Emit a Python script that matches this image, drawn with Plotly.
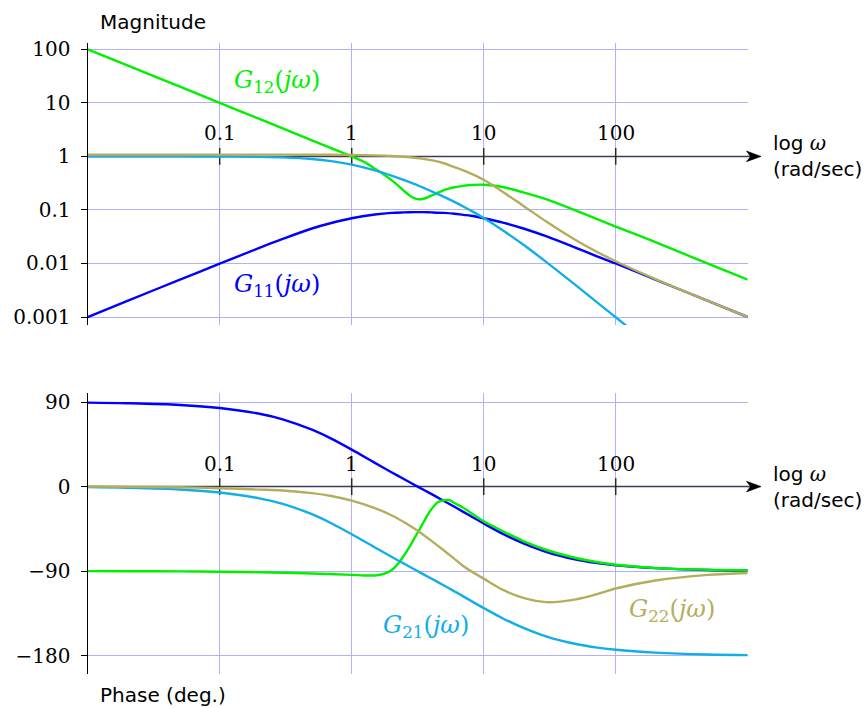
import math
import plotly.graph_objects as go

# ---------------------------------------------------------------------------
# Frequency samples (rad/sec) and read-off responses of the 2x2 plant G(s)
# ---------------------------------------------------------------------------
w = [0.01, 0.02, 0.05, 0.1, 0.2, 0.3, 0.5, 0.7, 1, 1.5, 2, 2.5, 3, 3.5, 4, 5,
     6, 7, 8, 10, 14, 20, 30, 50, 70, 100, 200, 500, 1000]

g11_mag = [0.001, 0.002, 0.005, 0.0099, 0.0196, 0.0287, 0.045, 0.057, 0.070,
           0.082, 0.088, 0.090, 0.091, 0.091, 0.090, 0.088, 0.085, 0.081,
           0.078, 0.070, 0.058, 0.045, 0.032, 0.0196, 0.014, 0.0100, 0.0050,
           0.0020, 0.0010]
g11_phase = [89.4, 88.7, 86.9, 83.7, 77.5, 71.6, 60.5, 51.0, 39.3, 25.2, 15.3,
             7.8, 1.7, -3.4, -7.8, -15.3, -21.5, -26.9, -31.6, -39.3, -50.4,
             -60.5, -69.7, -77.6, -81.1, -83.7, -86.8, -88.8, -89.4]

g21_mag = [1.0, 1.0, 0.999, 0.995, 0.98, 0.957, 0.893, 0.817, 0.704, 0.549,
           0.439, 0.360, 0.303, 0.259, 0.225, 0.175, 0.141, 0.116, 0.097,
           0.0704, 0.0414, 0.0223, 0.0105, 0.0039, 0.0020, 0.00099, 0.00025,
           0.00004, 0.00001]
g21_phase = [-0.6, -1.3, -3.1, -6.3, -12.5, -18.4, -29.4, -39.0, -50.7, -64.8,
             -74.7, -82.2, -88.3, -93.4, -97.8, -105.3, -111.5, -116.9, -121.6,
             -129.3, -140.4, -150.5, -159.7, -167.6, -171.1, -173.7, -176.8,
             -178.8, -179.4]

g22_mag = [1.078, 1.078, 1.078, 1.078, 1.077, 1.077, 1.074, 1.070, 1.062,
           1.043, 1.016, 0.983, 0.943, 0.899, 0.852, 0.745, 0.630, 0.550,
           0.478, 0.365, 0.216, 0.119, 0.060, 0.0271, 0.0171, 0.0110, 0.0051,
           0.0020, 0.0010]
g22_phase = [0.0, -0.3, -0.8, -1.8, -3.2, -4.2, -7.0, -10.0, -15.0, -23.0,
             -30.5, -38.0, -45.0, -51.5, -57.5, -68.0, -77.0, -84.5, -90.0,
             -98.0, -110.0, -118.5, -123.0, -120.0, -115.0, -108.5, -100.0,
             -94.0, -92.0]

w12 = [0.01, 0.02, 0.05, 0.1, 0.2, 0.5, 1, 1.25, 1.5, 1.75, 2, 2.25, 2.5, 2.75,
       3, 3.25, 3.5, 3.75, 4, 4.5, 5, 5.5, 6, 7, 8, 10, 14, 20, 30, 50, 70,
       100, 200, 500, 1000]
g12_mag = [100, 50, 20, 10, 5, 2.0, 1.0, 0.78, 0.59, 0.46, 0.36, 0.285, 0.225,
           0.185, 0.165, 0.158, 0.162, 0.172, 0.185, 0.21, 0.235, 0.252, 0.265,
           0.282, 0.292, 0.296, 0.268, 0.212, 0.157, 0.097, 0.0695, 0.049,
           0.025, 0.0099, 0.005]
g12_phase = [-90.0, -90.1, -90.3, -90.6, -91.2, -92.5, -94.0, -94.6, -94.6,
             -93.0, -89.0, -82.0, -73.0, -64.0, -54.5, -46.0, -38.0, -30.5,
             -24.5, -16.5, -14.5, -14.3, -17.5, -22.5, -28.0, -37.0, -47.5,
             -58.0, -67.5, -76.0, -80.0, -83.2, -86.6, -88.6, -89.4]

# Axis ticks
decades = [0.1, 1, 10, 100]
decade_labels = ["0.1", "1", "10", "100"]
mag_ticks = [100, 10, 1, 0.1, 0.01, 0.001]
mag_tick_labels = ["100", "10", "1", "0.1", "0.01", "0.001"]
phase_ticks = [90, 0, -90, -180]
phase_tick_labels = ["90", "0", "\u221290", "\u2212180"]

# ---------------------------------------------------------------------------
# Geometry
# ---------------------------------------------------------------------------
W, H = 867, 708
X_DOM = [87.7 / W, 747.7 / W]
MAG_DOM = [1 - 325.0 / H, 1 - 43.3 / H]
PH_DOM = [1 - 674.0 / H, 1 - 393.0 / H]
X_RANGE = [-2, 3]
MAG_RANGE = [-3.149, 2.112]
PH_RANGE = [-199.5, 99.6]

C_G11 = "#0000ff"
C_G12 = "#00f000"
C_G21 = "#12aee8"
C_G22 = "#b4ae5c"
GRID = "#b0b0ff"
AXIS = "#3e3e5c"

SERIF = "DejaVu Serif"
SANS = "DejaVu Sans"
LW = 2.4


def paper_y(value, dom, rng):
    return dom[0] + (value - rng[0]) / (rng[1] - rng[0]) * (dom[1] - dom[0])


fig = go.Figure()

# Horizontal frequency axes (drawn first so the curves sit on top)
fig.add_trace(go.Scatter(x=[0.01, 1000], y=[1, 1], mode="lines",
                         line=dict(color=AXIS, width=1.5), hoverinfo="skip",
                         xaxis="x", yaxis="y"))
fig.add_trace(go.Scatter(x=[0.01, 1000], y=[0, 0], mode="lines",
                         line=dict(color=AXIS, width=1.5), hoverinfo="skip",
                         xaxis="x2", yaxis="y2"))
fig.add_trace(go.Scatter(x=decades, y=[1] * len(decades), mode="markers",
                         marker=dict(symbol="line-ns", size=12,
                                     line=dict(color="#2a2a2a", width=1.5)),
                         cliponaxis=False, hoverinfo="skip",
                         xaxis="x", yaxis="y"))
fig.add_trace(go.Scatter(x=decades, y=[0] * len(decades), mode="markers",
                         marker=dict(symbol="line-ns", size=12,
                                     line=dict(color="#2a2a2a", width=1.5)),
                         cliponaxis=False, hoverinfo="skip",
                         xaxis="x2", yaxis="y2"))

curves = [
    (w, g11_mag, g11_phase, C_G11),
    (w12, g12_mag, g12_phase, C_G12),
    (w, g21_mag, g21_phase, C_G21),
    (w, g22_mag, g22_phase, C_G22),
]
for freq, mag, ph, col in curves:
    fig.add_trace(go.Scatter(x=freq, y=mag, mode="lines",
                             line=dict(color=col, width=LW, shape="spline",
                                       smoothing=0.9),
                             xaxis="x", yaxis="y"))
    fig.add_trace(go.Scatter(x=freq, y=ph, mode="lines",
                             line=dict(color=col, width=LW, shape="spline",
                                       smoothing=0.9),
                             xaxis="x2", yaxis="y2"))

xaxis_common = dict(type="log", range=X_RANGE, domain=X_DOM,
                    tickvals=decades, showticklabels=False, ticks="",
                    showgrid=True, gridcolor=GRID, gridwidth=1,
                    showline=False, zeroline=False, automargin=False)
yaxis_common = dict(ticks="outside", ticklen=6, tickwidth=1.2,
                    tickcolor="black", showline=True, linecolor="black",
                    linewidth=1.4, showgrid=True, gridcolor=GRID, gridwidth=1,
                    zeroline=False, ticklabelstandoff=6, automargin=False,
                    tickfont=dict(family=SERIF, size=20, color="black"))

fig.update_layout(
    width=W, height=H, margin=dict(l=0, r=0, t=0, b=0, pad=0),
    paper_bgcolor="white", plot_bgcolor="white", showlegend=False,
    xaxis=dict(anchor="y", **xaxis_common),
    xaxis2=dict(anchor="y2", **xaxis_common),
    yaxis=dict(anchor="x", type="log", domain=MAG_DOM, range=MAG_RANGE,
               tickvals=mag_ticks, ticktext=mag_tick_labels, **yaxis_common),
    yaxis2=dict(anchor="x2", domain=PH_DOM, range=PH_RANGE,
                tickvals=phase_ticks, ticktext=phase_tick_labels,
                **yaxis_common),
)

# Arrow extensions of the frequency axes
shapes = []
for y_axis in (paper_y(0.0, MAG_DOM, MAG_RANGE), paper_y(0.0, PH_DOM, PH_RANGE)):
    y_px = (1 - y_axis) * H
    shapes.append(dict(type="line", xref="paper", yref="paper",
                       x0=747.0 / W, x1=755.0 / W, y0=y_axis, y1=y_axis,
                       line=dict(color=AXIS, width=1.5)))
    pts = [(761.0, y_px), (746.5, y_px - 5.3), (750.5, y_px),
           (746.5, y_px + 5.3)]
    path = "M " + " L ".join(f"{px / W:.5f},{1 - py / H:.5f}" for px, py in pts) + " Z"
    shapes.append(dict(type="path", xref="paper", yref="paper", path=path,
                       fillcolor="black", line=dict(color="black", width=0.6)))
fig.update_layout(shapes=shapes)

ann = []
# Decade labels above each frequency axis
for xr, yr in (("x", "y"), ("x2", "y2")):
    for v, t in zip(decades, decade_labels):
        ann.append(dict(x=math.log10(v), y=0, xref=xr, yref=yr, text=t,
                        showarrow=False, yanchor="bottom", xanchor="center",
                        yshift=9, font=dict(family=SERIF, size=20,
                                            color="black")))

omega_lbl = ("log <span style='font-family:DejaVu Serif'><i>\u03c9</i></span>"
             "<br>(rad/sec)")
for y_axis in (paper_y(0.0, MAG_DOM, MAG_RANGE), paper_y(0.0, PH_DOM, PH_RANGE)):
    ann.append(dict(x=771.0 / W, y=y_axis, xref="paper", yref="paper",
                    text=omega_lbl, showarrow=False, xanchor="left",
                    yanchor="middle", align="left",
                    font=dict(family=SANS, size=20, color="black")))

ann.append(dict(x=98.0 / W, y=1 - 22.0 / H, xref="paper", yref="paper",
                text="Magnitude", showarrow=False, xanchor="left",
                yanchor="middle", font=dict(family=SANS, size=20,
                                            color="black")))
ann.append(dict(x=98.0 / W, y=1 - 695.0 / H, xref="paper", yref="paper",
                text="Phase (deg.)", showarrow=False, xanchor="left",
                yanchor="middle", font=dict(family=SANS, size=20,
                                            color="black")))

# Curve names
def gname(idx):
    return f"<i>G</i><sub>{idx}</sub>(<i>j\u03c9</i>)"

ann.append(dict(x=-0.568, y=1.395, xref="x", yref="y", text=gname("12"),
                showarrow=False, font=dict(family=SERIF, size=24, color=C_G12)))
ann.append(dict(x=-0.568, y=-2.415, xref="x", yref="y", text=gname("11"),
                showarrow=False, font=dict(family=SERIF, size=24, color=C_G11)))
ann.append(dict(x=0.561, y=-149.3, xref="x2", yref="y2", text=gname("21"),
                showarrow=False, font=dict(family=SERIF, size=24, color=C_G21)))
ann.append(dict(x=2.424, y=-132.3, xref="x2", yref="y2", text=gname("22"),
                showarrow=False, font=dict(family=SERIF, size=24, color=C_G22)))

fig.update_layout(annotations=ann)

fig.write_html("out.html")
